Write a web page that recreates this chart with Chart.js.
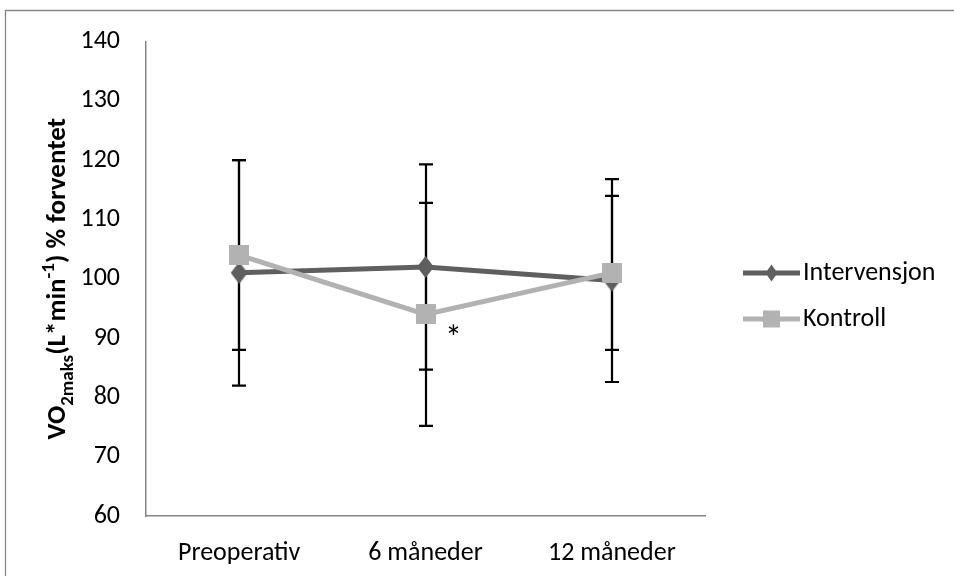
<!DOCTYPE html>
<html><head><meta charset="utf-8">
<script src="https://cdn.jsdelivr.net/npm/chart.js@4"></script>
<style>html,body{margin:0;padding:0;background:#fff;}</style>
</head><body>
<canvas id="c" width="954" height="576"></canvas>
<script>
const categories = ['Preoperativ', '6 måneder', '12 måneder'];
const seriesNames = ['Intervensjon', 'Kontroll'];
const interventionMean = [101, 102, 99.7];
const interventionErr = [19, 17.3, 17.1];
const kontrollMean = [104, 94, 101];
const kontrollErr = [16, 18.8, 13];
const significance = ['', '*', ''];
const yTicks = [60, 70, 80, 90, 100, 110, 120, 130, 140];

const FONT = 'Carlito, Calibri, Lato, "Liberation Sans", sans-serif';
const DARK = '#5f5f5f';
const LIGHT = '#b2b2b2';
const AXIS = '#868686';
const FS = 26;

function makeDiamond(w, h, color) {
  const c = document.createElement('canvas'); c.width = w; c.height = h;
  const g = c.getContext('2d'); g.fillStyle = color; g.beginPath();
  g.moveTo(w / 2, 0); g.lineTo(w, h / 2); g.lineTo(w / 2, h); g.lineTo(0, h / 2); g.closePath(); g.fill();
  return c;
}
function makeSquare(s, color) {
  const c = document.createElement('canvas'); c.width = s; c.height = s;
  const g = c.getContext('2d'); g.fillStyle = color; g.fillRect(0, 0, s, s);
  return c;
}

const errors = [interventionErr, kontrollErr];

const framePlugin = {
  id: 'frame',
  beforeDraw(chart) {
    const ctx = chart.ctx; ctx.save();
    ctx.strokeStyle = AXIS; ctx.lineWidth = 1.3;
    ctx.beginPath(); ctx.moveTo(5.5, 576); ctx.lineTo(5.5, 10.5); ctx.lineTo(954, 10.5); ctx.stroke();
    ctx.restore();
  }
};

const errorBarPlugin = {
  id: 'errorBars',
  beforeDatasetsDraw(chart) {
    const ctx = chart.ctx; const ys = chart.scales.y;
    ctx.save(); ctx.strokeStyle = '#000'; ctx.lineWidth = 2.2;
    chart.data.datasets.forEach((ds, i) => {
      const meta = chart.getDatasetMeta(i);
      meta.data.forEach((pt, j) => {
        const v = ds.data[j], e = errors[i][j];
        const top = ys.getPixelForValue(v + e), bot = ys.getPixelForValue(v - e);
        const x = Math.round(pt.x);
        ctx.beginPath();
        ctx.moveTo(x, top); ctx.lineTo(x, bot);
        ctx.moveTo(x - 7, top); ctx.lineTo(x + 7, top);
        ctx.moveTo(x - 7, bot); ctx.lineTo(x + 7, bot);
        ctx.stroke();
      });
    });
    ctx.restore();
  },
  afterDatasetsDraw(chart) {
    const ctx = chart.ctx; const meta = chart.getDatasetMeta(1);
    ctx.save(); ctx.fillStyle = '#000'; ctx.font = '34px ' + FONT;
    ctx.textAlign = 'center'; ctx.textBaseline = 'middle';
    significance.forEach((s, j) => {
      if (!s) return;
      const p = meta.data[j];
      ctx.fillText(s, p.x + 28, p.y + 26);
    });
    ctx.restore();
  }
};

const legendPlugin = {
  id: 'customLegend',
  afterDraw(chart) {
    const ctx = chart.ctx; ctx.save();
    const ys = [273, 319];
    const x0 = 743, x1 = 800, xm = 771.5;
    chart.data.datasets.forEach((ds, i) => {
      const y = ys[i];
      ctx.strokeStyle = ds.borderColor; ctx.lineWidth = 5;
      ctx.beginPath(); ctx.moveTo(x0, y); ctx.lineTo(x1, y); ctx.stroke();
      ctx.fillStyle = ds.borderColor;
      if (i === 0) {
        ctx.beginPath(); ctx.moveTo(xm, y - 8.5); ctx.lineTo(xm + 6, y); ctx.lineTo(xm, y + 8.5); ctx.lineTo(xm - 6, y); ctx.closePath(); ctx.fill();
      } else {
        ctx.fillRect(xm - 8.5, y - 8.5, 17, 17);
      }
      ctx.fillStyle = '#000'; ctx.font = FS + 'px ' + FONT;
      ctx.textAlign = 'left'; ctx.textBaseline = 'middle';
      ctx.fillText(ds.label, 803, y);
    });
    ctx.restore();
  }
};

const yTitlePlugin = {
  id: 'yTitle',
  afterDraw(chart) {
    const ctx = chart.ctx; ctx.save();
    const segs = [
      { t: 'VO', s: 27, dy: 0 },
      { t: '2maks', s: 19, dy: 8 },
      { t: '(L*min', s: 27, dy: 0 },
      { t: '-1', s: 19, dy: -11 },
      { t: ') % forventet', s: 27, dy: 0 }
    ];
    let total = 0;
    segs.forEach(g => { ctx.font = 'bold ' + g.s + 'px ' + FONT; g.w = ctx.measureText(g.t).width; total += g.w; });
    const cy = (chart.chartArea.top + chart.chartArea.bottom) / 2;
    ctx.translate(65, cy); ctx.rotate(-Math.PI / 2);
    ctx.fillStyle = '#000'; ctx.textBaseline = 'alphabetic'; ctx.textAlign = 'left';
    let x = -total / 2;
    segs.forEach(g => { ctx.font = 'bold ' + g.s + 'px ' + FONT; ctx.fillText(g.t, x, g.dy); x += g.w; });
    ctx.restore();
  }
};

new Chart(document.getElementById('c'), {
  type: 'line',
  data: {
    labels: categories,
    datasets: [
      { label: seriesNames[0], data: interventionMean, borderColor: DARK, backgroundColor: DARK, borderWidth: 5,
        pointStyle: makeDiamond(17, 22, DARK), pointRadius: 10, tension: 0, order: 1 },
      { label: seriesNames[1], data: kontrollMean, borderColor: LIGHT, backgroundColor: LIGHT, borderWidth: 5,
        pointStyle: makeSquare(20, LIGHT), pointRadius: 10, tension: 0, order: 0 }
    ]
  },
  options: {
    responsive: false, animation: false, devicePixelRatio: 1,
    layout: { padding: { left: 0, right: 249, top: 41, bottom: 0 } },
    plugins: { legend: { display: false }, tooltip: { enabled: false } },
    scales: {
      x: {
        type: 'category', offset: true,
        grid: { display: false, drawTicks: false },
        border: { display: true, color: AXIS, width: 1.5 },
        ticks: { color: '#000', font: { family: FONT, size: FS }, padding: 22, maxRotation: 0 },
        afterFit(s) { s.height = 60; }
      },
      y: {
        min: 60, max: 140,
        grid: { display: false, drawTicks: false },
        border: { display: true, color: AXIS, width: 1.5 },
        ticks: { color: '#000', font: { family: FONT, size: FS }, padding: 26 },
        afterBuildTicks(s) { s.ticks = yTicks.map(v => ({ value: v })); },
        afterFit(s) { s.width = 146; }
      }
    }
  },
  plugins: [framePlugin, errorBarPlugin, legendPlugin, yTitlePlugin]
});
</script>
</body></html>
